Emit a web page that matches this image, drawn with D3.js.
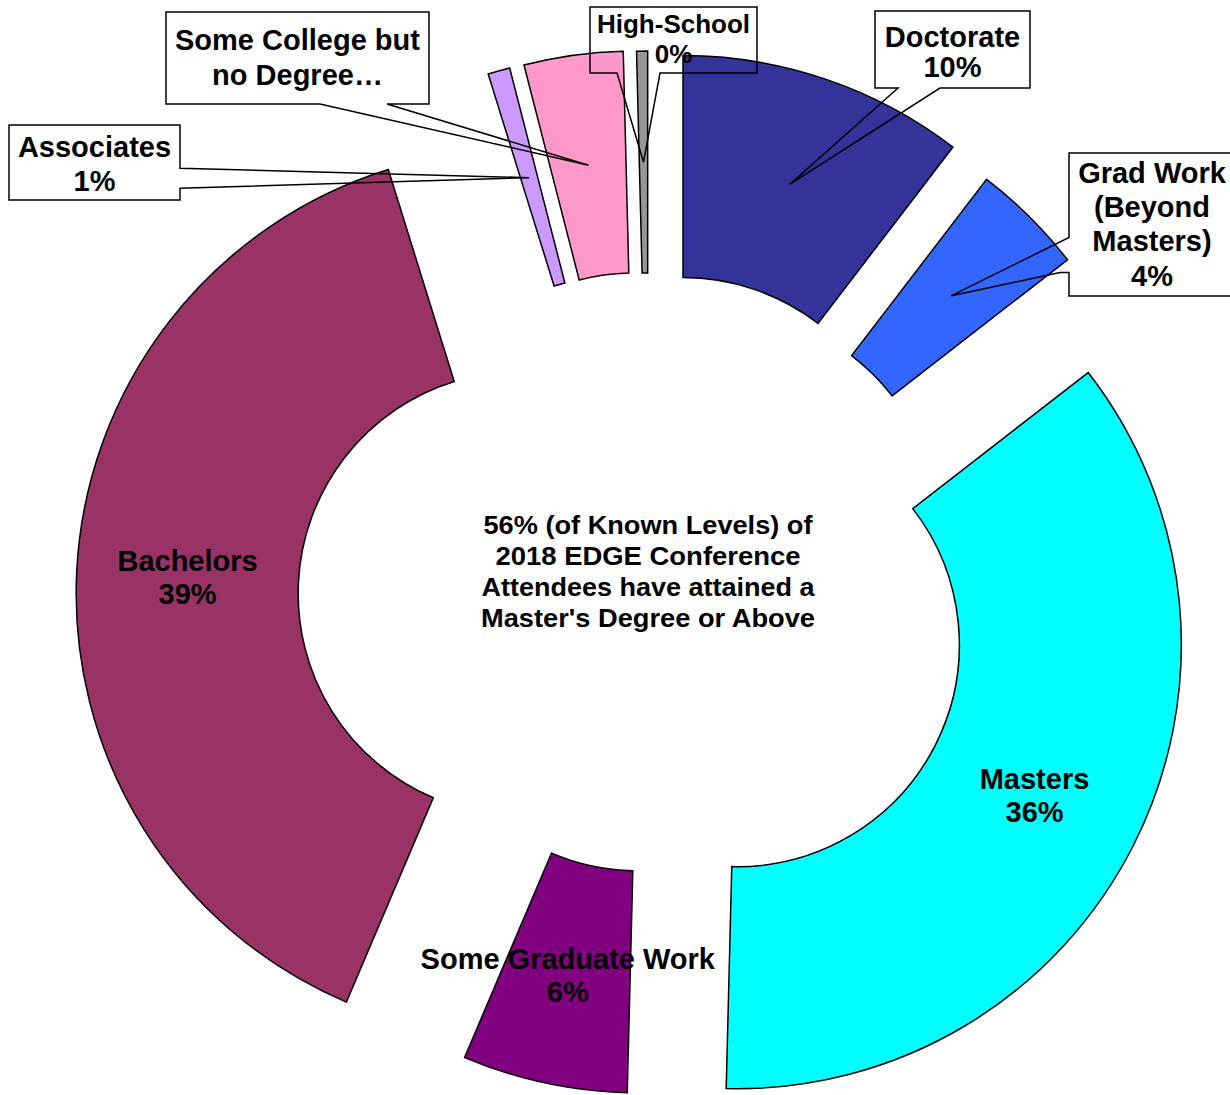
<!DOCTYPE html>
<html><head><meta charset="utf-8">
<script src="https://cdn.jsdelivr.net/npm/d3@7"></script>
<style>body{margin:0;background:#fff}svg{display:block}</style>
</head><body>
<svg id="chart" width="1230" height="1095"></svg>
<script>
// ---- data ----
const categories = ["Doctorate","Grad Work (Beyond Masters)","Masters","Some Graduate Work","Bachelors","Associates","Some College but no Degree","High-School"];
const values = [10.4, 4.1, 35.9, 6.0, 38.8, 0.8, 3.6, 0.4];
const labelLines = [["Doctorate"],["Grad Work","(Beyond","Masters)"],["Masters"],["Some Graduate Work"],["Bachelors"],["Associates"],["Some College but","no Degree…"],["High-School"]];
const showPercent = [true,true,true,true,true,true,false,true];
const centerLines = ["56% (of Known Levels) of","2018 EDGE Conference","Attendees have attained a","Master's Degree or Above"];

// ---- style / layout ----
const colors = ["#333399","#3366FF","#00FFFF","#800080","#993366","#CC99FF","#FF99CC","#969696"];
const explode = [106, 96, 99, 50, 129, 106, 106, 105];
const center = [649, 600];
const outerR = 444, innerR = 222;
const font = "'Liberation Sans', Arial, sans-serif";
const labelSize = 29;
const callouts = {
  0: {box:[875,11,155,77], side:"bottom", base:[898,940], lines:[46.7,76.7], size:labelSize},
  1: {box:[1069,153,166,143], side:"left", base:[237.5,272.5], inset:9, lines:[183,217,251,285.5], size:labelSize},
  5: {box:[9,125,171,75], side:"right", base:[168.3,188.3], lines:[156.7,191], size:labelSize},
  6: {box:[166,12,263,92], side:"bottom", base:[320,387], lines:[50,85], size:labelSize},
  7: {box:[590,7,167,66], side:"bottom", base:[617,660], lines:[33.3,63.3], size:26}
};
const centerX = 648;
const centerBaselines = [533.5, 564.5, 595.5, 626.5];
const centerWidths = [329, 305, 333, 334];

const svg = d3.select("#chart");
const total = d3.sum(values);
const pct = d3.format(".0%");

const pie = d3.pie().sort(null).value(d => d).startAngle(0).endAngle(2*Math.PI);
const arcs = pie(values);
const arc = d3.arc().innerRadius(innerR).outerRadius(outerR);

function offsetOf(a, i) {
  const b = (a.startAngle + a.endAngle) / 2;
  return [center[0] + explode[i]*Math.sin(b), center[1] - explode[i]*Math.cos(b)];
}

const g = svg.append("g");
g.selectAll("path.slice").data(arcs).join("path")
  .attr("class","slice")
  .attr("d", arc)
  .attr("transform", (a,i) => { const o = offsetOf(a,i); return `translate(${o[0]},${o[1]})`; })
  .attr("fill", (a,i) => colors[i])
  .attr("stroke", "#000")
  .attr("stroke-width", 1.5)
  .attr("stroke-linejoin","miter");

// inside labels
arcs.forEach((a,i) => {
  if (callouts[i]) return;
  const o = offsetOf(a,i);
  const c = arc.centroid(a);
  const x = o[0] + c[0], y = o[1] + c[1];
  const t = svg.append("text").attr("text-anchor","middle")
    .attr("font-family", font).attr("font-weight","bold").attr("font-size", labelSize).attr("fill","#000");
  t.append("tspan").attr("x", x).attr("y", y - 5.5).text(labelLines[i][0]);
  t.append("tspan").attr("x", x).attr("y", y + 27.5).text(pct(values[i]/total));
});

// callouts
arcs.forEach((a,i) => {
  const co = callouts[i];
  if (!co) return;
  const o = offsetOf(a,i);
  const c = arc.centroid(a);
  const tip = [o[0] + c[0], o[1] + c[1]];
  const [x,y,w,h] = co.box;
  let p;
  if (co.side === "bottom") {
    p = `M${x},${y}H${x+w}V${y+h}H${co.base[1]}L${tip[0]},${tip[1]}L${co.base[0]},${y+h}H${x}Z`;
  } else if (co.side === "right") {
    p = `M${x},${y}H${x+w}V${co.base[0]}L${tip[0]},${tip[1]}L${x+w},${co.base[1]}V${y+h}H${x}Z`;
  } else {
    p = `M${x},${y}H${x+w}V${y+h}H${x}V${co.base[1]}H${x-(co.inset||0)}L${tip[0]},${tip[1]}L${x},${co.base[0]}Z`;
  }
  svg.append("path").attr("d", p).attr("fill","none").attr("stroke","#000").attr("stroke-width",1.5);
  const lines = labelLines[i].slice();
  if (showPercent[i]) lines.push(pct(values[i]/total));
  const cx = (i === 1) ? 1152 : x + w/2;
  const t = svg.append("text").attr("text-anchor","middle")
    .attr("font-family", font).attr("font-weight","bold").attr("font-size", co.size).attr("fill","#000");
  lines.forEach((s,k) => t.append("tspan").attr("x", cx).attr("y", co.lines[k]).text(s));
});

// center text
centerLines.forEach((s,k) => {
  svg.append("text").attr("text-anchor","middle")
    .attr("font-family", font).attr("font-weight","bold").attr("font-size", 25.5).attr("fill","#000")
    .attr("x", centerX).attr("y", centerBaselines[k])
    .attr("textLength", centerWidths[k]).attr("lengthAdjust","spacingAndGlyphs")
    .text(s);
});
</script>
</body></html>
